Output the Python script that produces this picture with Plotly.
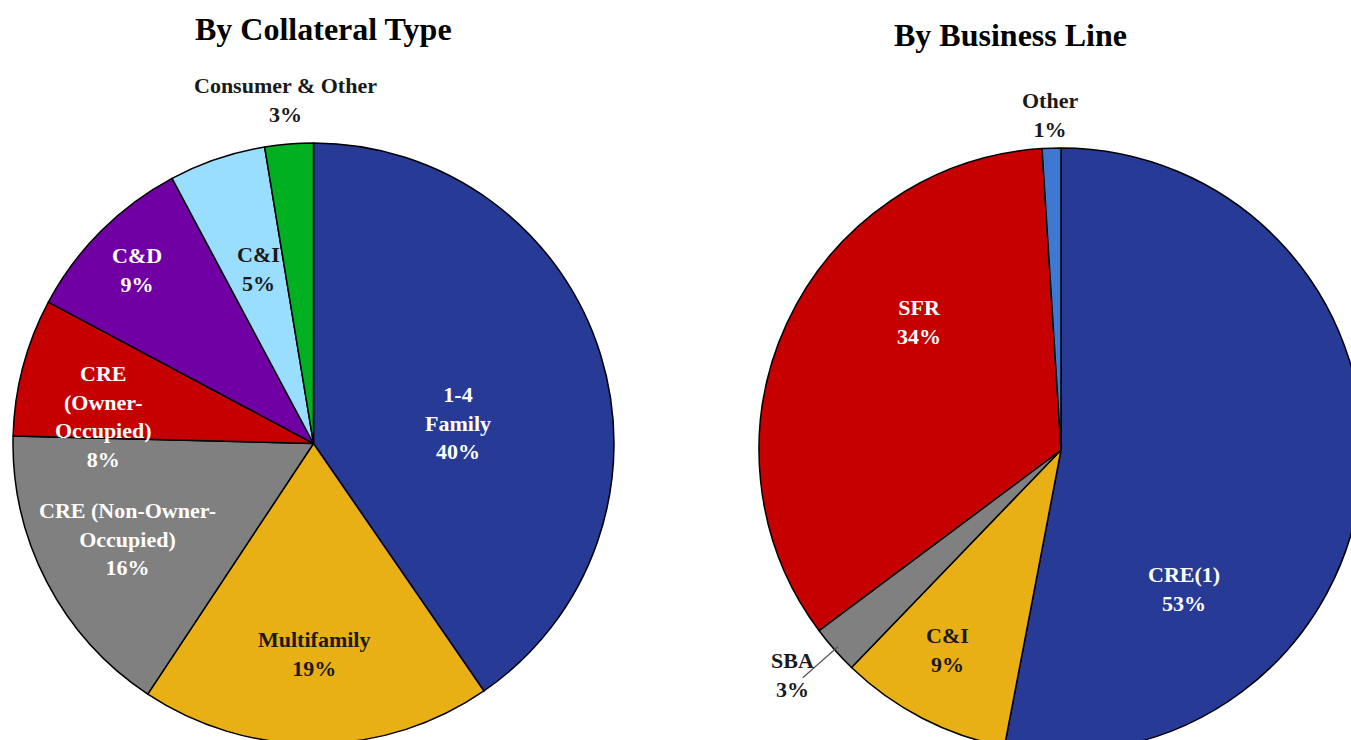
import math
import plotly.graph_objects as go

# ---------------- data ----------------
coll_labels = ["1-4 Family", "Multifamily", "CRE (Non-Owner-Occupied)",
               "CRE (Owner-Occupied)", "C&D", "C&I", "Consumer & Other"]
coll_values = [40.4, 18.9, 16.1, 7.4, 9.4, 5.2, 2.6]
coll_text = ["1-4<br>Family<br>40%", "Multifamily<br>19%",
             "CRE (Non-Owner-<br>Occupied)<br>16%",
             "CRE<br>(Owner-<br>Occupied)<br>8%", "C&D<br>9%", "C&I<br>5%",
             "Consumer & Other<br>3%"]

biz_labels = ["CRE(1)", "C&I", "SBA", "SFR", "Other"]
biz_values = [53.0, 9.2, 2.6, 34.2, 1.0]
biz_text = ["CRE(1)<br>53%", "C&I<br>9%", "SBA<br>3%", "SFR<br>34%", "Other<br>1%"]

# ---------------- style ----------------
W, H = 1370, 760
coll_colors = ["#263A96", "#E8B015", "#808080", "#C60000", "#7000A3", "#99DDFF", "#00B020"]
biz_colors = ["#263A96", "#E8B015", "#808080", "#C60000", "#3F78D0"]
coll_font_col = ["white", "#1a1a1a", "white", "white", "white", "#1a1a1a", "#1a1a1a"]
biz_font_col = ["white", "#1a1a1a", "#1a1a1a", "white", "#1a1a1a"]
# label placement: angular offset from slice middle (deg) and radial fraction
coll_dang = [9.2, 0.4, 0.4, -7.5, -0.5, 1.1, 0.0]
coll_rad = [0.486, 0.70, 0.697, 0.706, 0.824, 0.61, 1.148]
biz_dang = [43.2, 2.2, 1.5, 17.2, 0.0]
biz_rad = [0.614, 0.761, 1.159, 0.635, 1.11]

FONT = "Liberation Serif"
LABEL_SIZE = 22
TITLE_SIZE = 32

# pie geometry (pixels, from top-left)
L_CX, L_CY, L_R = 313.5, 443.5, 300.5
R_CX, R_CY, R_R = 1061.0, 450.0, 302.0


def dom(cx, cy, r):
    return dict(x=[(cx - r) / W, (cx + r) / W],
                y=[1 - (cy + r) / H, 1 - (cy - r) / H])


fig = go.Figure()
fig.add_trace(go.Pie(labels=coll_labels, values=coll_values, sort=False,
                     direction="clockwise", rotation=0, textinfo="none",
                     hoverinfo="skip",
                     marker=dict(colors=coll_colors, line=dict(color="black", width=1.5)),
                     domain=dom(L_CX, L_CY, L_R), showlegend=False))
fig.add_trace(go.Pie(labels=biz_labels, values=biz_values, sort=False,
                     direction="clockwise", rotation=0, textinfo="none",
                     hoverinfo="skip",
                     marker=dict(colors=biz_colors, line=dict(color="black", width=1.5)),
                     domain=dom(R_CX, R_CY, R_R), showlegend=False))


def mids(values):
    tot = sum(values)
    out, c = [], 0.0
    for v in values:
        out.append((c + v / 2) / tot * 360.0)
        c += v
    return out


def polar(cx, cy, r, ang, f):
    a = math.radians(ang)
    px = cx + f * r * math.sin(a)
    py = cy - f * r * math.cos(a)
    return px / W, 1 - py / H


annotations = []
for vals, texts, cols, dang, rad, cx, cy, r in [
        (coll_values, coll_text, coll_font_col, coll_dang, coll_rad, L_CX, L_CY, L_R),
        (biz_values, biz_text, biz_font_col, biz_dang, biz_rad, R_CX, R_CY, R_R)]:
    for m, t, c, da, f in zip(mids(vals), texts, cols, dang, rad):
        x, y = polar(cx, cy, r, m + da, f)
        annotations.append(dict(x=x, y=y, xref="paper", yref="paper", text=t,
                                showarrow=False, xanchor="center", yanchor="middle",
                                font=dict(family=FONT, size=LABEL_SIZE, color=c,
                                          weight="bold")))

# titles
annotations.append(dict(x=323 / W, y=1 - 29 / H, xref="paper", yref="paper",
                        text="By Collateral Type", showarrow=False,
                        xanchor="center", yanchor="middle",
                        font=dict(family=FONT, size=TITLE_SIZE, color="black", weight="bold")))
annotations.append(dict(x=1010 / W, y=1 - 35 / H, xref="paper", yref="paper",
                        text="By Business Line", showarrow=False,
                        xanchor="center", yanchor="middle",
                        font=dict(family=FONT, size=TITLE_SIZE, color="black", weight="bold")))

# leader line for SBA
sba_ang = mids(biz_values)[2]
x0, y0 = polar(R_CX, R_CY, R_R, sba_ang, 0.985)
x1, y1 = polar(R_CX, R_CY, R_R, sba_ang, 1.14)
shapes = [dict(type="line", xref="paper", yref="paper", x0=x0, y0=y0, x1=x1, y1=y1,
               line=dict(color="#555555", width=1.2))]

fig.update_layout(width=W, height=H, margin=dict(l=0, r=0, t=0, b=0),
                  paper_bgcolor="white", plot_bgcolor="white",
                  annotations=annotations, shapes=shapes)

fig.write_html("out.html", config={"displayModeBar": False},
               post_script="document.body.style.margin='0';"
                           "document.body.style.overflow='hidden';"
                           "document.documentElement.style.overflow='hidden';")
